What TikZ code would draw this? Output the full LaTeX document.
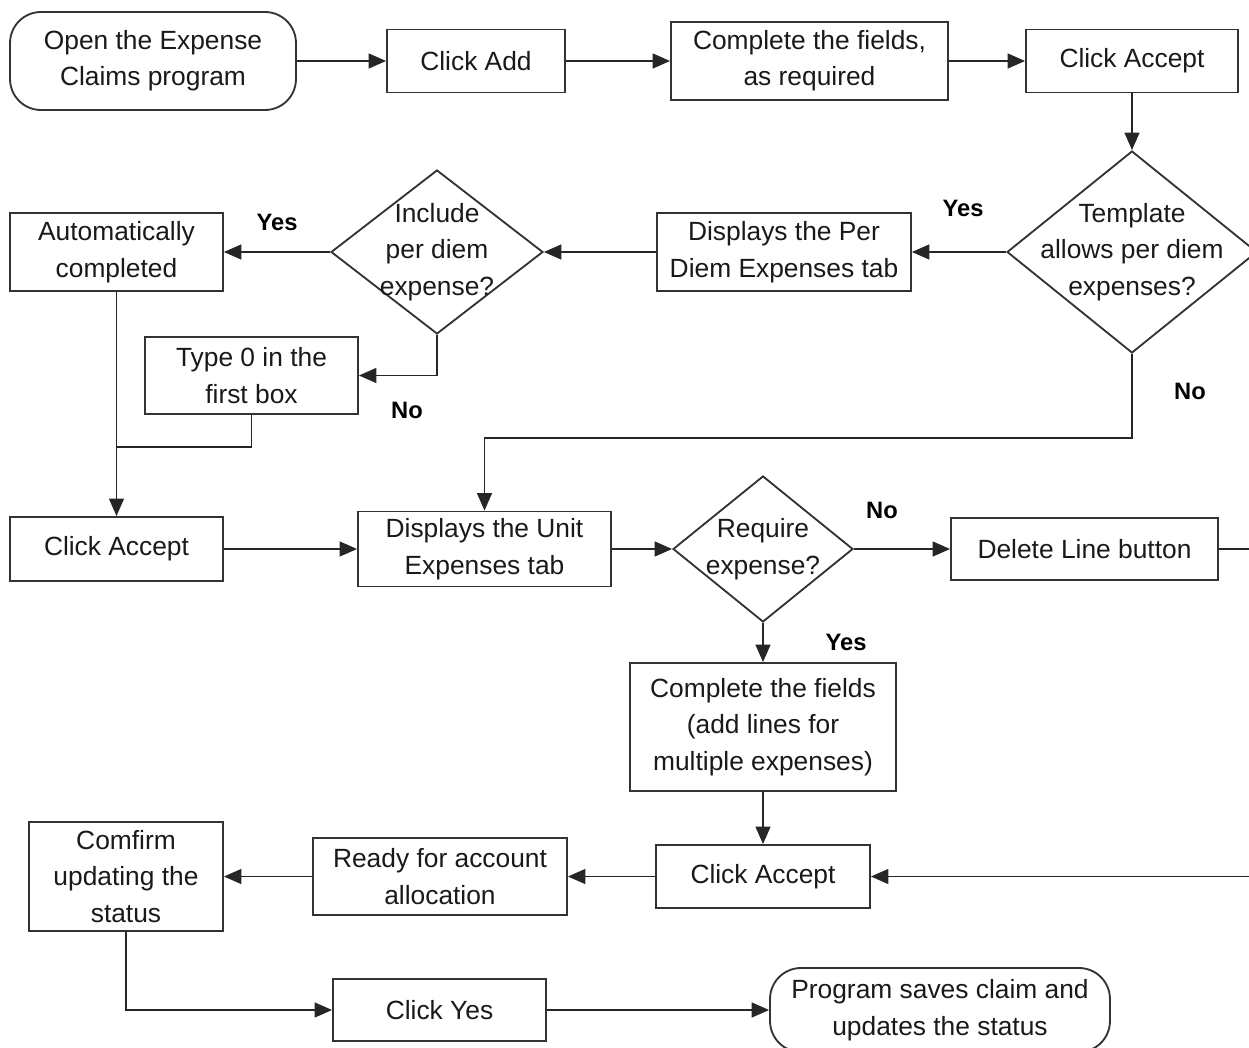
\documentclass[tikz,border=0pt]{standalone}
\usepackage{fontspec}
\setmainfont{Liberation Sans}
\usetikzlibrary{shapes.geometric,arrows.meta}

\begin{document}
\begin{tikzpicture}[x=0.02cm,y=-0.02cm,
  base/.style={draw=black!80, line width=1.05pt, text=black!90, align=center,
    inner sep=0pt, font=\fontsize{15}{20.7}\selectfont},
  stepbox/.style={base, rectangle},
  terminal/.style={base, rectangle, rounded corners=0.62cm},
  decision/.style={base, diamond},
  answer/.style={font=\fontsize{13.5}{16}\selectfont\bfseries, text=black},
  flow/.style={draw=black!85, line width=1.05pt,
    -{Triangle[length=10pt,width=8.5pt]}},
  joint/.style={draw=black!85, line width=1.05pt}
]
\path[use as bounding box] (0,0) rectangle (1249,1048);
\clip (0,0) rectangle (1249,1048);

% first row
\node[terminal, minimum width=5.72cm, minimum height=1.96cm] (open) at (153,61)
  {Open the Expense\\Claims program};
\node[stepbox, minimum width=3.56cm, minimum height=1.26cm] (add) at (476,61) {Click Add};
\node[stepbox, minimum width=5.54cm, minimum height=1.56cm] (fields) at (809.5,61)
  {Complete the fields,\\as required};
\node[stepbox, minimum width=4.24cm, minimum height=1.26cm] (accA) at (1132,61) {Click Accept};

% per diem branch
\node[decision, minimum width=5cm, minimum height=4.04cm,
  label={[base, draw=none, align=center]center:Template\\allows per diem\\expenses?}] (tmpl) at (1132,252) {};
\node[stepbox, minimum width=5.08cm, minimum height=1.56cm] (perdiem) at (784,252)
  {Displays the Per\\Diem Expenses tab};
\node[decision, minimum width=4.24cm, minimum height=3.28cm,
  label={[base, draw=none, align=center]center:Include\\per diem\\expense?}] (incl) at (437,252) {};
\node[stepbox, minimum width=4.26cm, minimum height=1.56cm] (auto) at (116.5,252)
  {Automatically\\completed};
\node[stepbox, minimum width=4.26cm, minimum height=1.54cm] (zero) at (251.5,375.5)
  {Type 0 in the\\first box};
\coordinate (merge) at (116.5,447);

% unit expenses row
\node[stepbox, minimum width=4.26cm, minimum height=1.28cm] (accB) at (116.5,549) {Click Accept};
\node[stepbox, minimum width=5.06cm, minimum height=1.5cm] (unit) at (484.5,549)
  {Displays the Unit\\Expenses tab};
\node[decision, minimum width=3.6cm, minimum height=2.92cm,
  label={[base, draw=none, align=center]center:Require\\expense?}] (req) at (763,549) {};
\node[stepbox, minimum width=5.34cm, minimum height=1.24cm] (del) at (1084.5,549) {Delete Line button};
\node[stepbox, minimum width=5.32cm, minimum height=2.56cm] (fieldsB) at (763,727)
  {Complete the fields\\(add lines for\\multiple expenses)};

% closing rows
\node[stepbox, minimum width=4.28cm, minimum height=1.26cm] (accC) at (763,876.5) {Click Accept};
\node[stepbox, minimum width=5.08cm, minimum height=1.54cm] (ready) at (440,876.5)
  {Ready for account\\allocation};
\node[stepbox, minimum width=3.88cm, minimum height=2.18cm] (confirm) at (126,876.5)
  {Comfirm\\updating the\\status};
\node[stepbox, minimum width=4.26cm, minimum height=1.24cm] (yes) at (439.5,1010) {Click Yes};
\node[terminal, minimum width=6.8cm, minimum height=1.68cm] (done) at (940,1010)
  {Program saves claim and\\updates the status};

% branch answers
\node[answer] (yA) at (277,222) {Yes};
\node[answer] (yB) at (963,208) {Yes};
\node[answer] (nA) at (407,410) {No};
\node[answer] (nB) at (1190,391) {No};
\node[answer] (nC) at (882,510) {No};
\node[answer] (yC) at (846,642) {Yes};

% connectors
\draw[flow] (open) -- (add);
\draw[flow] (add) -- (fields);
\draw[flow] (fields) -- (accA);
\draw[flow] (accA) -- (tmpl);
\draw[flow] (tmpl) -- (perdiem);
\draw[flow] (perdiem) -- (incl);
\draw[flow] (incl) -- (auto);
\draw[flow] (incl.south) |- (zero.east);
\draw[joint] (zero.south) |- (merge);
\draw[flow] (auto) -- (accB);
\draw[flow] (accB) -- (unit);
\draw[flow] (tmpl.south) -- ++(0,84) -| (unit.north);
\draw[flow] (unit) -- (req);
\draw[flow] (req) -- (del);
\draw[flow] (req) -- (fieldsB);
\draw[flow] (fieldsB) -- (accC);
\draw[flow] (del.east) -- ++(60,0) |- (accC.east);
\draw[flow] (accC) -- (ready);
\draw[flow] (ready) -- (confirm);
\draw[flow] (confirm.south) |- (yes.west);
\draw[flow] (yes) -- (done);
\end{tikzpicture}
\end{document}
